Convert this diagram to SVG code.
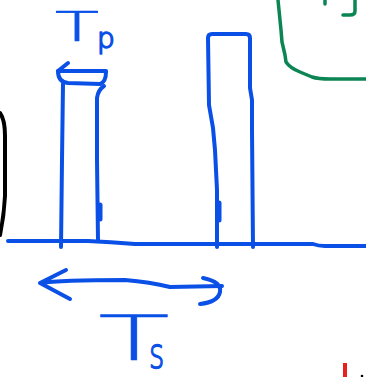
<svg xmlns="http://www.w3.org/2000/svg" width="366" height="377" viewBox="0 0 366 377">
<style>
.b{fill:none;stroke:#0a50e6;stroke-width:4;stroke-linecap:round;stroke-linejoin:round}
.g{fill:none;stroke:#0b8553;stroke-width:3.5;stroke-linecap:round;stroke-linejoin:round}
.k{fill:none;stroke:#000;stroke-width:4;stroke-linecap:round}
.t{fill:#0a50e6;stroke:#0a50e6;stroke-linejoin:round;font-family:"DejaVu Sans","Liberation Sans",sans-serif;font-weight:200}
</style>
<rect width="366" height="377" fill="#fff"/>
<g id="black-arc"><path class="k" d="M0 113 Q5 120 5 136 L5 196 Q4 216 0 235"/></g>
<g id="green-shape">
<path class="g" d="M278 0 L281 30 L282 42 L285 55 L286 62 Q290 68 300 72 L312 77 Q318 79 330 79 L366 79"/>
<path class="g" d="M325 0 L325 4"/>
<path class="g" d="M355 0 L355 11 Q355 15 350 15 L343 15"/>
</g>
<g id="baseline"><path class="b" d="M8 241 L88 241 Q110 242 135 244 L313 244 Q318 246 325 246 L366 246"/></g>
<g id="pillar-1">
<path class="b" d="M63 84 L62 160 L61 247"/>
<path class="b" d="M104 86 Q98 90 97 98 L97 160 L98 240"/>
<path class="b" d="M58 71 Q58 82 68 83 L100 84 Q106 82 106 72"/>
<path class="b" style="stroke-width:5" d="M100 205 L100 219"/>
</g>
<g id="pillar-2">
<path class="b" d="M217 247 L217 190 L215 150 L213 128 L209 105 L208 38 Q208 34 212 34 L246 34 Q250 34 250 38 L250 88 L252 100 L252 130 L253 247"/>
<path class="b" style="stroke-width:5" d="M219 203 L219 220"/>
</g>
<g id="label-tp">
<text class="t" x="0" y="41" font-size="40" text-anchor="middle" stroke-width="0.7" transform="translate(77,0) scale(1.8,1)">T</text>
<text class="t" x="97" y="48" font-size="28" stroke-width="1.6">p</text>
</g>
<g id="label-ts">
<text class="t" x="0" y="360" font-size="62" text-anchor="middle" stroke-width="0.3" transform="translate(134,0) scale(1.9,1)">T</text>
<text class="t" x="0" y="368" font-size="42" stroke-width="1.4" transform="translate(149,0) scale(0.7,1)">s</text>
</g>
<g id="connectors">
<path class="b" d="M68 63 L58 71 L106 71"/>
<path class="b" d="M66 270 L40 283 L70 299 M40 283 Q60 280 125 280 Q150 282 170 287 L222 286"/>
<path class="b" d="M203 278 Q222 282 220 292 Q218 302 200 304"/>
</g>
<g id="marks">
<path d="M345 363 L345 377" stroke="#e8201c" stroke-width="4"/>
<circle cx="362" cy="376" r="1.3" fill="#000"/>
</g>
</svg>
